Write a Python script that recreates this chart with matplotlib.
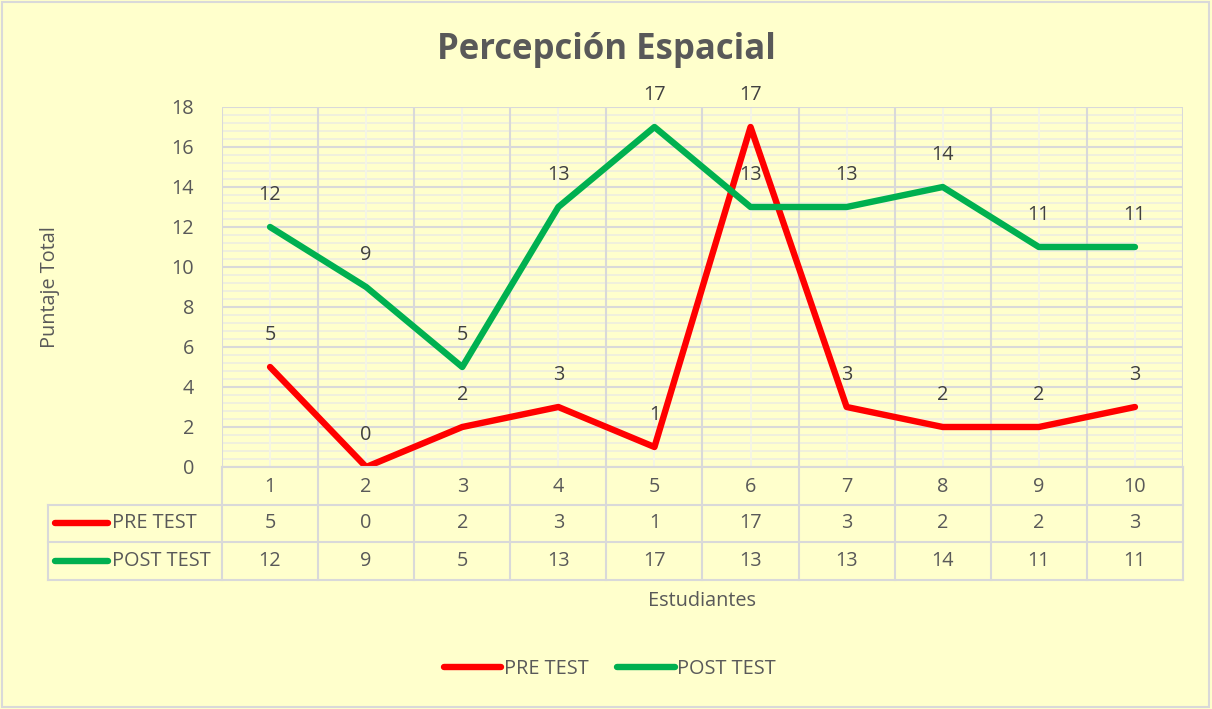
import matplotlib
matplotlib.use("Agg")
import matplotlib.pyplot as plt
from matplotlib.lines import Line2D
from matplotlib.patches import Rectangle
import numpy as np

estudiantes = [1, 2, 3, 4, 5, 6, 7, 8, 9, 10]
pre_test = [5, 0, 2, 3, 1, 17, 3, 2, 2, 3]
post_test = [12, 9, 5, 13, 17, 13, 13, 14, 11, 11]
series_names = ["PRE TEST", "POST TEST"]

W, H = 1212, 709
BG = "#FFFFCC"
TXT = "#595959"
GRID = "#D9D9D9"
RED = "#FF0000"
GREEN = "#00B050"
FS = 14.3

plt.rcParams["font.family"] = ["Open Sans", "DejaVu Sans"]


def fx(px):
    return px / W


def fy(py):
    return 1 - py / H


fig = plt.figure(figsize=(W / 100, H / 100), dpi=100, facecolor=BG)
fig.patches.append(Rectangle((fx(2), fy(707)), fx(1207), 705 / H, transform=fig.transFigure,
                             fill=False, edgecolor="#D9D9D9", lw=1.5))

# plot area
left, right, top, bottom = 222, 1183, 107, 467
ax = fig.add_axes([fx(left), fy(bottom), (right - left) / W, (bottom - top) / H])
ax.set_facecolor(BG)
ax.set_xlim(0.5, 10.5)
ax.set_ylim(0, 18)

# grid: minor horizontal every 0.4, major every 2, vertical at boundaries and centers
for y in np.arange(0, 18.01, 0.4):
    ax.axhline(y, color="#EDEDE0", lw=1.2, zorder=0)
for y in range(0, 19, 2):
    ax.axhline(y, color=GRID, lw=1.5, zorder=1)
for x in estudiantes:
    ax.axvline(x, color="#F4F4EA", lw=1.2, zorder=0)
for x in np.arange(0.5, 10.6, 1):
    ax.axvline(x, color=GRID, lw=1.5, zorder=1)

for s in ax.spines.values():
    s.set_visible(False)
ax.set_xticks([])
ax.set_yticks(range(0, 19, 2))
ax.tick_params(axis="y", length=0, pad=20, labelsize=FS, labelcolor=TXT)

ax.plot(estudiantes, pre_test, color=RED, lw=4.6, solid_joinstyle="round", solid_capstyle="round", zorder=3)
ax.plot(estudiantes, post_test, color=GREEN, lw=4.6, solid_joinstyle="round", solid_capstyle="round", zorder=3)

for xs, vals in [(estudiantes, pre_test), (estudiantes, post_test)]:
    for x, v in zip(xs, vals):
        ax.annotate(str(v), (x, v), xytext=(0, 23), textcoords="offset points",
                    ha="center", va="center", fontsize=FS, color="#404040", zorder=4,
                    annotation_clip=False)

# data table
row_lines = [467, 505, 542, 580]
trans = ax.get_xaxis_transform()


def ay(py):
    return (bottom - py) / (bottom - top)


for i, py in enumerate(row_lines):
    x0 = left if i == 0 else 48
    fig.add_artist(Line2D([fx(x0), fx(right)], [fy(py), fy(py)], color=GRID, lw=1.5))
for x in np.arange(0.5, 10.6, 1):
    ax.plot([x, x], [ay(467), ay(580)], transform=trans, color=GRID, lw=1.5, clip_on=False)
fig.add_artist(Line2D([fx(48), fx(48)], [fy(505), fy(580)], color=GRID, lw=1.5))

for x in estudiantes:
    ax.text(x, ay(487), str(x), transform=trans, ha="center", va="center", fontsize=FS, color=TXT)
for row_y, vals, name, col in [(523, pre_test, series_names[0], RED), (561, post_test, series_names[1], GREEN)]:
    for x, v in zip(estudiantes, vals):
        ax.text(x, ay(row_y), str(v), transform=trans, ha="center", va="center", fontsize=FS, color=TXT)
    fig.add_artist(Line2D([fx(55), fx(108)], [fy(row_y), fy(row_y)], color=col, lw=4.6,
                          solid_capstyle="round"))
    fig.text(fx(112), fy(row_y), name, ha="left", va="center", fontsize=FS, color=TXT)

# titles and labels
fig.text(fx(606), fy(50), "Percepción Espacial", ha="center", va="center", fontsize=25,
         fontweight="bold", color=TXT)
fig.text(fx(50), fy(287), "Puntaje Total", ha="center", va="center", rotation=90, fontsize=FS, color=TXT)
fig.text(fx(702), fy(601), "Estudiantes", ha="center", va="center", fontsize=FS, color=TXT)

handles = [Line2D([], [], color=RED, lw=4.6, solid_capstyle="round"),
           Line2D([], [], color=GREEN, lw=4.6, solid_capstyle="round")]
fig.legend(handles, series_names, loc="center", bbox_to_anchor=(fx(610), fy(669)), ncol=2,
           frameon=False, fontsize=FS, labelcolor=TXT, handlelength=2.9, handletextpad=0.15,
           columnspacing=1.4)

fig.savefig("out.png", dpi=100, facecolor=BG)
